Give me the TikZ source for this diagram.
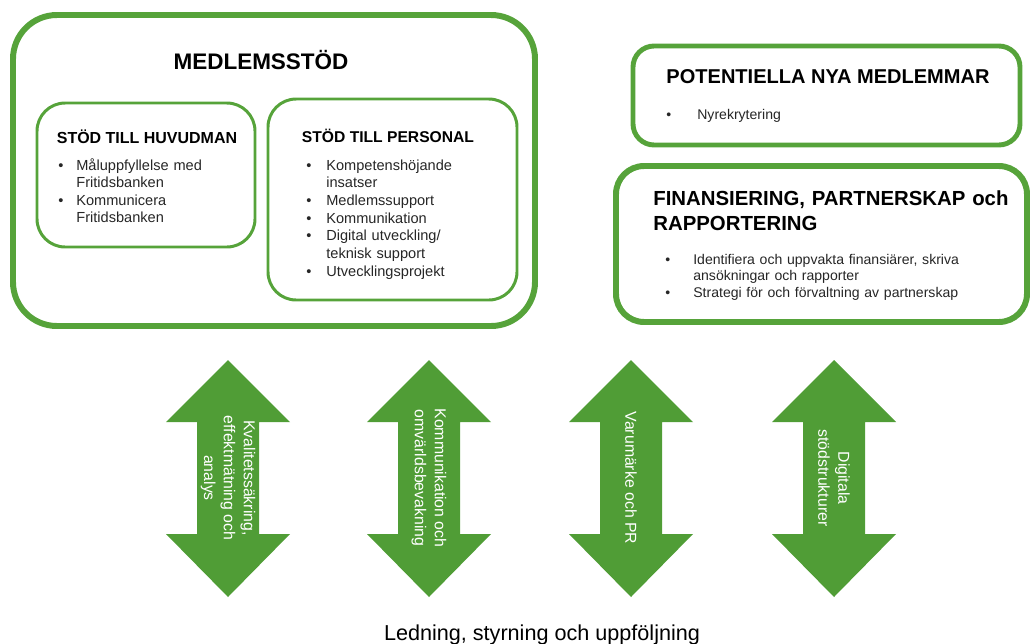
\documentclass[tikz,border=0pt]{standalone}
\usepackage{fontspec}
\setmainfont{Liberation Sans}
\definecolor{ramgron}{RGB}{86,163,58}
\definecolor{pilgron}{RGB}{80,157,54}
% punkt i en lista: indrag, text
\newcommand{\punkt}[2]{\noindent\hangindent=#1\hangafter=1\makebox[#1][l]{\textbullet}\strut#2\par}

\begin{document}
\begin{tikzpicture}[x=0.02cm, y=-0.02cm,
		ram/.style={draw=ramgron, rounded corners=#1},
		rubrik/.style={font=\fontsize{#1}{#1}\selectfont\bfseries, anchor=base, inner sep=0pt},
		lista/.style={text width=7cm, anchor=base west, inner sep=0pt, text=black!85},
		piltext/.style={text=white, rotate=-90, align=center, inner sep=0pt, font=\fontsize{9}{11.3}\selectfont}]
		\useasboundingbox (0,0) rectangle (1032,643);
		% ramarna
		\draw[ram=25pt, line width=3.4pt] (13,15) rectangle (535,326);
		\draw[ram=16pt, line width=1.7pt] (37,103) rectangle (255,247);
		\draw[ram=16pt, line width=1.7pt] (268,99) rectangle (517,300);
		\draw[ram=12pt, line width=2.8pt] (633,46) rectangle (1020,145);
		\draw[ram=16pt, line width=3.4pt] (616,166) rectangle (1027,322);
		% rubriker
		\node[rubrik=12.8] (medlemsstod) at (261,69) {MEDLEMSSTÖD};
		\node[rubrik=9.1] (huvudman) at (147,143) {STÖD TILL HUVUDMAN};
		\node[rubrik=8.9] (personal) at (388,142) {STÖD TILL PERSONAL};
		\node[rubrik=11.4] (nya) at (828,83) {POTENTIELLA NYA MEDLEMMAR};
		\node[rubrik=11.6, text width=9cm, anchor=base west, font=\fontsize{11.6}{14.7}\selectfont\bfseries] (finansiering) at (653,205) {FINANSIERING, PARTNERSKAP och\\RAPPORTERING};
		% punktlistor
		\node[lista, font=\fontsize{8.3}{10}\selectfont] (huvudmanlista) at (58,170) {%
			\punkt{0.36cm}{Måluppfyllelse med\newline Fritidsbanken}
			\punkt{0.36cm}{Kommunicera\newline Fritidsbanken}};
		\node[lista, font=\fontsize{8.3}{10.1}\selectfont] (personallista) at (306,170) {%
			\punkt{0.4cm}{Kompetenshöjande\newline insatser}
			\punkt{0.4cm}{Medlemssupport}
			\punkt{0.4cm}{Kommunikation}
			\punkt{0.4cm}{Digital utveckling/\newline teknisk support}
			\punkt{0.4cm}{Utvecklingsprojekt}};
		\node[lista, font=\fontsize{8}{9.6}\selectfont] (nyalista) at (666,119) {%
			\punkt{0.62cm}{Nyrekrytering}};
		\node[lista, font=\fontsize{8}{9.6}\selectfont] (finansieringlista) at (665,264) {%
			\punkt{0.56cm}{Identifiera och uppvakta finansiärer, skriva\newline ansökningar och rapporter}
			\punkt{0.56cm}{Strategi för och förvaltning av partnerskap}};
		% dubbelpilar
		\foreach \x/\namn/\txt in {228/kvalitet/{Kvalitetssäkring,\\effektmätning och\\analys},
				429/omvarld/{Kommunikation och\\omvärldsbevakning},
				631/varumarke/{Varumärke och PR},
				834/digitala/{Digitala\\stödstrukturer}}
		{
			\fill[pilgron] (\x,360) -- (\x+62,422) -- (\x+31,422) -- (\x+31,534) -- (\x+62,534) -- (\x,597)
				-- (\x-62,534) -- (\x-31,534) -- (\x-31,422) -- (\x-62,422) -- cycle;
			\node[piltext] (\namn) at (\x,478) {\txt};
		}
		\node[anchor=base, inner sep=0pt, font=\fontsize{12.3}{14}\selectfont] (ledning) at (542,640) {Ledning, styrning och uppföljning};
		\end{tikzpicture}
\end{document}
